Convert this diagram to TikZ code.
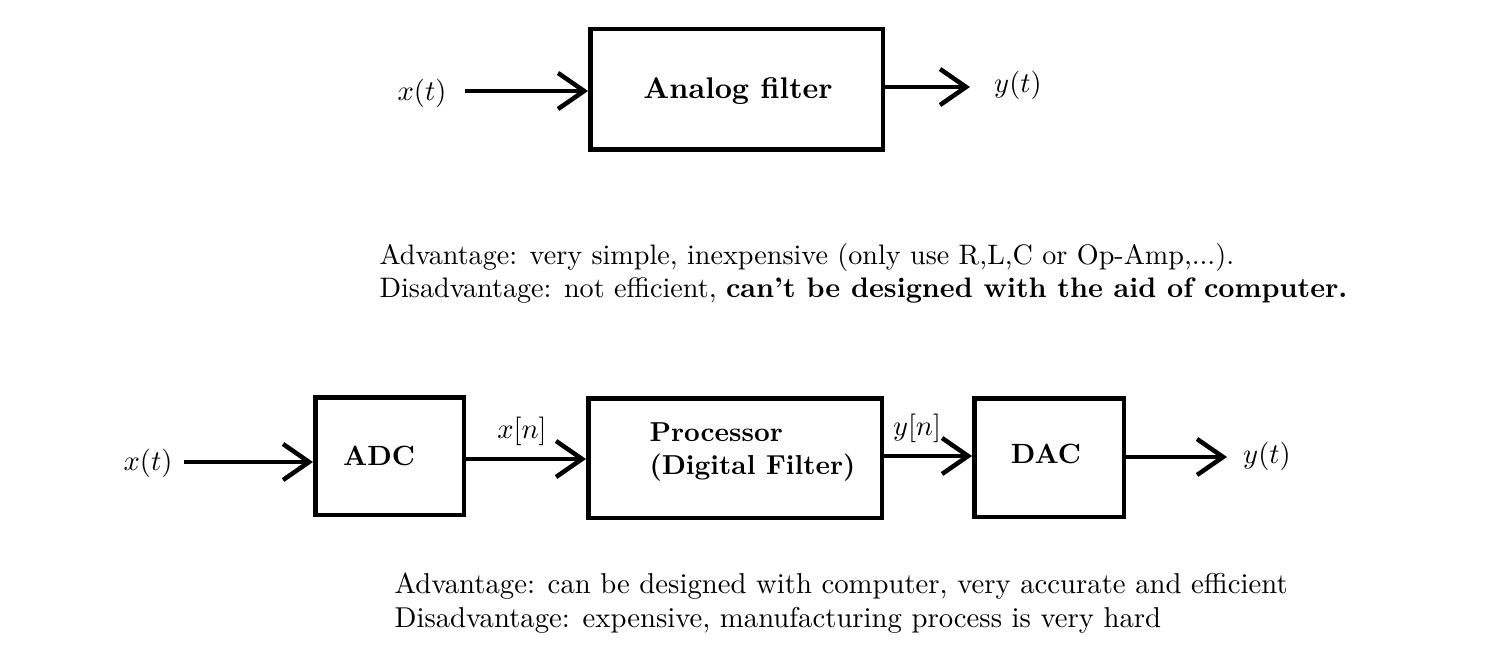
\RequirePackage{fix-cm}
\documentclass[tikz,border=0pt]{standalone}
\usetikzlibrary{arrows.meta}
\begin{document}
\begin{tikzpicture}[x=1pt,y=-1pt,
  every node/.style={font=\fontsize{10}{12.2}\selectfont},
  box/.style={draw, line width=4.5pt, inner sep=0pt},
  txt/.style={inner sep=0pt, scale=2.855, transform shape},
  conn/.style={line width=4.5pt, -{Straight Barb[length=26pt,width=36pt]}}]
\useasboundingbox (0,0) rectangle (1488,671);
% ---------- top: analog filter ----------
\node[box, minimum width=292.5pt, minimum height=120.5pt] (af) at (736.5,89.5) {};
\node[txt, scale=1.047] (aft) at (738,91) {\bfseries Analog filter};
\node[txt] (xt1) at (422,93) {$x(t)$};
\node[txt] (yt1) at (1018,85) {$y(t)$};
\coordinate (a1) at (465,91);
\coordinate (o1) at (970,87);
\draw[conn] (a1) -- (a1 -| af.west);
\draw[conn] ([yshift=2.5pt]af.east) -- (o1);
% ---------- top text ----------
\node[txt, scale=0.986, anchor=base west] (adv1) at (379,264) {Advantage: very simple, inexpensive (only use R,L,C or Op-Amp,...).};
\node[txt, scale=0.987, anchor=base west] (dis1) at (379,297) {Disadvantage: not efficient, \textbf{can't be designed with the aid of computer.}};
% ---------- bottom: digital chain ----------
\node[box, minimum width=148.5pt, minimum height=117.5pt] (adc) at (389.5,456) {};
\node[txt, scale=0.975] (adct) at (379,456) {\bfseries ADC};
\node[box, minimum width=293.5pt, minimum height=119.5pt] (proc) at (735,458) {};
\node[txt, scale=0.96, anchor=west, align=left] (proct) at (649,452) {\bfseries Processor\\\bfseries (Digital Filter)};
\node[box, minimum width=149.5pt, minimum height=118.5pt] (dac) at (1049,457.5) {};
\node[txt, scale=0.975] (dact) at (1046,454) {\bfseries DAC};
\node[txt] (xt2) at (148,463) {$x(t)$};
\node[txt] (xn) at (522,431) {$x[n]$};
\node[txt] (yn) at (917,428) {$y[n]$};
\node[txt] (yt2) at (1267,456) {$y(t)$};
\coordinate (b1) at (184,462);
\coordinate (o2) at (1227,457);
\draw[conn] (b1) -- (b1 -| adc.west);
\draw[conn] ([yshift=-3pt]adc.east) -- ([yshift=-3pt]adc.east -| proc.west);
\draw[conn] ([yshift=2pt]proc.east) -- ([yshift=2pt]proc.east -| dac.west);
\draw[conn] ([yshift=0.5pt]dac.east) -- (o2);
% ---------- bottom text ----------
\node[txt, scale=1.006, anchor=base west] (adv2) at (394,593) {Advantage: can be designed with computer, very accurate and efficient};
\node[txt, scale=1.006, anchor=base west] (dis2) at (394,627) {Disadvantage: expensive, manufacturing process is very hard};
\end{tikzpicture}
\end{document}
